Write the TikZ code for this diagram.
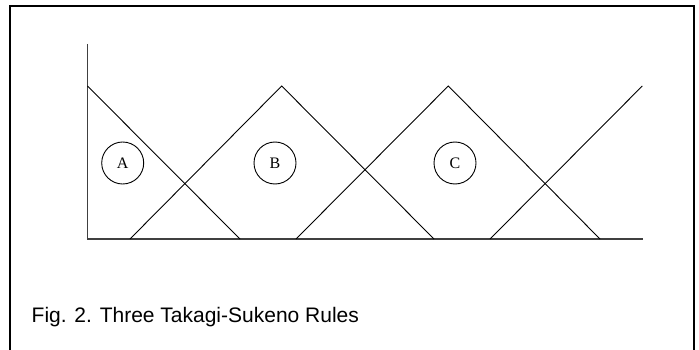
\documentclass[tikz,border=0pt]{standalone}
\usepackage{fontspec}
\setmainfont{Liberation Serif}
\newfontfamily\capfont{Liberation Sans}
\begin{document}
\begin{tikzpicture}[x=1pt,y=-1pt,
  mf/.style={line width=0.9pt},
  axisline/.style={line width=1.4pt, draw=black!75},
  rulecirc/.style={circle, draw, line width=0.9pt, minimum size=42pt, inner sep=0pt, font=\fontsize{16}{16}\selectfont},
  framebox/.style={line width=2pt}]
\useasboundingbox (0,0) rectangle (699,350);
\draw[framebox] (10,360) -- (10,6) -- (693.5,6) -- (693.5,360);
% axes
\coordinate (ytop) at (87.5,44);
\coordinate (org) at (87.5,239);
\coordinate (xend) at (642.5,239);
\draw[axisline] (ytop) -- (org) -- (xend);
% membership functions
\coordinate (a0) at (87.5,86);
\coordinate (a1) at (240,239);
\coordinate (b0) at (130,239);
\coordinate (b1) at (281.7,86);
\coordinate (b2) at (434,239);
\coordinate (c0) at (296,239);
\coordinate (c1) at (448.3,86);
\coordinate (c2) at (600,239);
\coordinate (d0) at (490,239);
\coordinate (d1) at (642.3,86);
\draw[mf] (a0) -- (a1);
\draw[mf] (b0) -- (b1) -- (b2);
\draw[mf] (c0) -- (c1) -- (c2);
\draw[mf] (d0) -- (d1);
% rule labels
\node[rulecirc] (A) at (122.7,163) {A};
\node[rulecirc] (B) at (275,163) {B};
\node[rulecirc] (C) at (455,163) {C};
% caption
\node[anchor=base west, inner sep=0pt, font=\capfont\fontsize{21}{22}\selectfont] (cap) at (31.5,322.3) {Fig. 2. Three Takagi-Sukeno Rules};
\end{tikzpicture}
\end{document}
